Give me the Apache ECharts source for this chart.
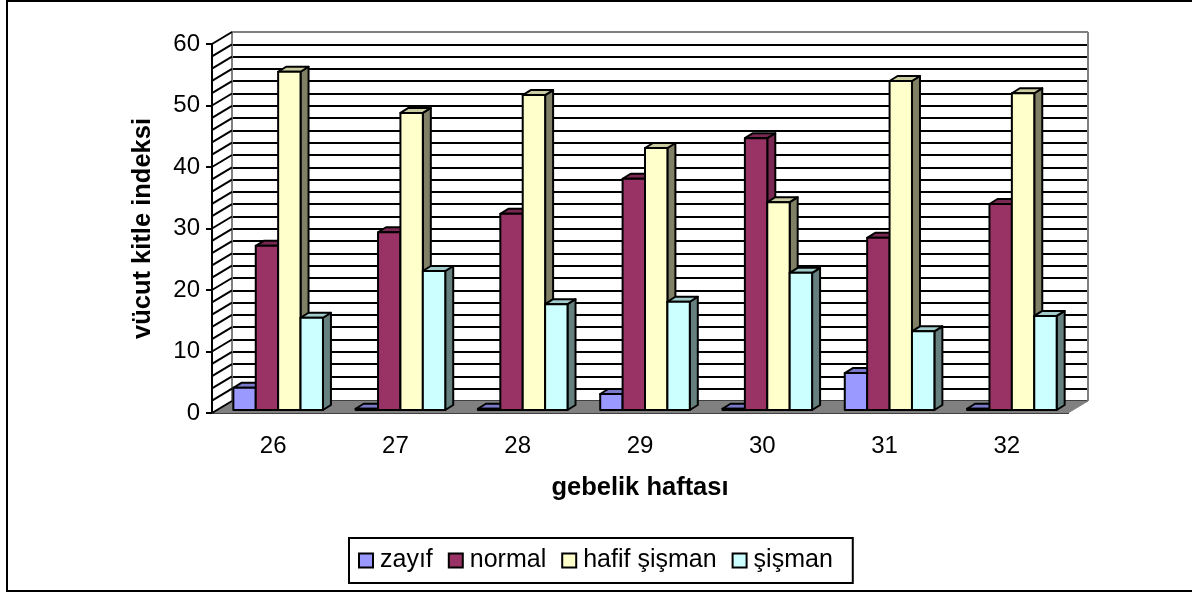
<!DOCTYPE html>
<html>
<head>
<meta charset="utf-8">
<style>
  html, body { margin: 0; padding: 0; background: #fff; }
  #chart { width: 1192px; height: 592px; }
</style>
<script src="https://cdn.jsdelivr.net/npm/echarts@6/dist/echarts.min.js"></script>
</head>
<body>
<div id="chart"></div>
<script>
const weeks = ['26', '27', '28', '29', '30', '31', '32'];
const zayif = [3.6, 0.2, 0.2, 2.6, 0.2, 6, 0.2];
const normal = [26.7, 28.9, 31.9, 37.6, 44.2, 28, 33.5];
const hafifSisman = [55, 48.3, 51.2, 42.6, 33.8, 53.5, 51.5];
const sisman = [15, 22.6, 17.2, 17.6, 22.3, 12.8, 15.3];
const wallTicks = [0, 2, 4, 6, 8, 10, 12, 14, 16, 18, 20, 22, 24, 26, 28, 30, 32, 34, 36, 38, 40, 42, 44, 46, 48, 50, 52, 54, 56, 58, 60];

const fontFamily = '"Liberation Sans", Arial, sans-serif';
const depthX = 20;
const depthY = 12;
const barW = 22.4;
const sideX = 8;
const sideY = 5;

const chart = echarts.init(document.getElementById('chart'));

// 3D bar: front face plus top and side, all from the axis scale
const barItem = (seriesIndex, colors) => (params, api) => {
    const cat = api.value(0);
    const base = api.coord([cat, 0]);
    const top = api.coord([cat, api.value(1)]);
    const x0 = base[0] + 5 - 2 * barW + seriesIndex * barW;
    const x1 = x0 + barW;
    const y0 = base[1] - 3;
    const y1 = top[1] - 3;
    const line = { stroke: '#000', lineWidth: 2, lineJoin: 'round' };
    return {
        type: 'group',
        children: [
            { type: 'polygon', shape: { points: [[x1, y0], [x1 + sideX, y0 - sideY], [x1 + sideX, y1 - sideY], [x1, y1]] }, style: { fill: colors.side, ...line } },
            { type: 'polygon', shape: { points: [[x0, y1], [x0 + sideX, y1 - sideY], [x1 + sideX, y1 - sideY], [x1, y1]] }, style: { fill: colors.top, ...line } },
            { type: 'rect', shape: { x: x0, y: y1, width: barW, height: y0 - y1 }, style: { fill: colors.front, ...line } }
        ]
    };
};

const barSeries = (name, values, index, colors) => ({
    name,
    type: 'custom',
    xAxisIndex: 0,
    yAxisIndex: 0,
    clip: false,
    z: 5,
    itemStyle: { color: colors.front },
    encode: { x: 0, y: 1 },
    data: values.map((v, i) => [i, v]),
    renderItem: barItem(index, colors)
});

const option = {
    animation: false,
    backgroundColor: '#fff',
    textStyle: { fontFamily },
    graphic: [{
        type: 'rect',
        silent: true,
        z: -1,
        shape: { x: 7, y: 1, width: 1200, height: 590 },
        style: { fill: '#fff', stroke: '#000', lineWidth: 2 }
    }],
    legend: {
        left: 349,
        top: 538,
        padding: [10, 20, 10, 9],
        itemGap: 15,
        itemWidth: 14,
        itemHeight: 14,
        borderColor: '#000',
        borderWidth: 2,
        icon: 'rect',
        itemStyle: { borderColor: '#000', borderWidth: 2 },
        textStyle: { fontFamily, fontSize: 25, color: '#000', padding: [0, 0, 0, 2] },
        data: ['zayıf', 'normal', 'hafif şişman', 'şişman']
    },
    grid: [
        { left: 212, right: 124, top: 44, bottom: 179 },
        { left: 212 + depthX, right: 124 - depthX, top: 44 - depthY, bottom: 179 + depthY, show: false }
    ],
    xAxis: [
        {
            type: 'category',
            data: weeks,
            gridIndex: 0,
            axisLine: { lineStyle: { color: '#000', width: 2 } },
            axisTick: { length: 6, lineStyle: { color: '#000', width: 2 } },
            axisLabel: { fontSize: 24, color: '#000', margin: 21, fontFamily },
            name: 'gebelik haftası',
            nameLocation: 'middle',
            nameGap: 62,
            nameTextStyle: { fontSize: 25.5, fontWeight: 'bold', color: '#000', fontFamily }
        },
        {
            type: 'category',
            data: weeks,
            gridIndex: 1,
            show: false
        }
    ],
    yAxis: [
        {
            type: 'value',
            min: 0,
            max: 60,
            interval: 10,
            gridIndex: 0,
            splitLine: { show: false },
            axisLine: { show: true, lineStyle: { color: '#000', width: 2 } },
            axisTick: { show: true, length: 6, lineStyle: { color: '#000', width: 2 } },
            axisLabel: { fontSize: 24, color: '#000', margin: 12, fontFamily },
            name: 'vücut kitle indeksi',
            nameLocation: 'middle',
            nameGap: 56,
            nameTextStyle: { fontSize: 25.5, fontWeight: 'bold', color: '#000', fontFamily }
        },
        {
            // back wall of the 3D box, lines every 2 units
            type: 'value',
            min: 0,
            max: 60,
            interval: 2,
            gridIndex: 1,
            axisLine: { show: true, lineStyle: { color: '#808080', width: 2 } },
            axisTick: { show: false },
            axisLabel: { show: false },
            splitLine: { show: true, lineStyle: { color: '#000', width: 2 } }
        }
    ],
    series: [
        {
            // floor and right edge of the back wall
            type: 'custom',
            silent: true,
            clip: false,
            z: 1,
            data: [[0]],
            renderItem: (params, api) => {
                const a = api.coord([0, 0]);
                const rect = params.coordSys;
                const xl = rect.x;
                const xr = rect.x + rect.width;
                const y = a[1];
                const yTop = rect.y;
                return {
                    type: 'group',
                    children: [
                        { type: 'polygon', shape: { points: [[xl, y], [xl + depthX, y - depthY], [xr + depthX, y - depthY], [xr, y]] }, style: { fill: '#808080', stroke: '#808080', lineWidth: 1 } },
                        { type: 'line', shape: { x1: xr + depthX, y1: y - depthY, x2: xr + depthX, y2: yTop - depthY }, style: { stroke: '#808080', lineWidth: 2 } },
                        { type: 'line', shape: { x1: xl + depthX, y1: yTop - depthY, x2: xr + depthX, y2: yTop - depthY }, style: { stroke: '#808080', lineWidth: 2 } }
                    ]
                };
            }
        },
        {
            // side wall hatch, one slanted line per back wall line
            type: 'custom',
            silent: true,
            clip: false,
            z: 1,
            data: wallTicks.map((t) => [0, t]),
            encode: { x: 0, y: 1 },
            renderItem: (params, api) => {
                const rect = params.coordSys;
                const y = api.coord([0, api.value(1)])[1];
                return {
                    type: 'line',
                    shape: { x1: rect.x, y1: y, x2: rect.x + depthX, y2: y - depthY },
                    style: { stroke: '#000', lineWidth: 2 }
                };
            }
        },
        barSeries('zayıf', zayif, 0, { front: '#9999FF', top: '#7A7ACC', side: '#666699' }),
        barSeries('normal', normal, 1, { front: '#993366', top: '#7A2952', side: '#7A2952' }),
        barSeries('hafif şişman', hafifSisman, 2, { front: '#FFFFCC', top: '#CCCCA3', side: '#808066' }),
        barSeries('şişman', sisman, 3, { front: '#CCFFFF', top: '#A3CCCC', side: '#668080' })
    ]
};

chart.setOption(option);
window.addEventListener('resize', () => chart.resize());
</script>
</body>
</html>
